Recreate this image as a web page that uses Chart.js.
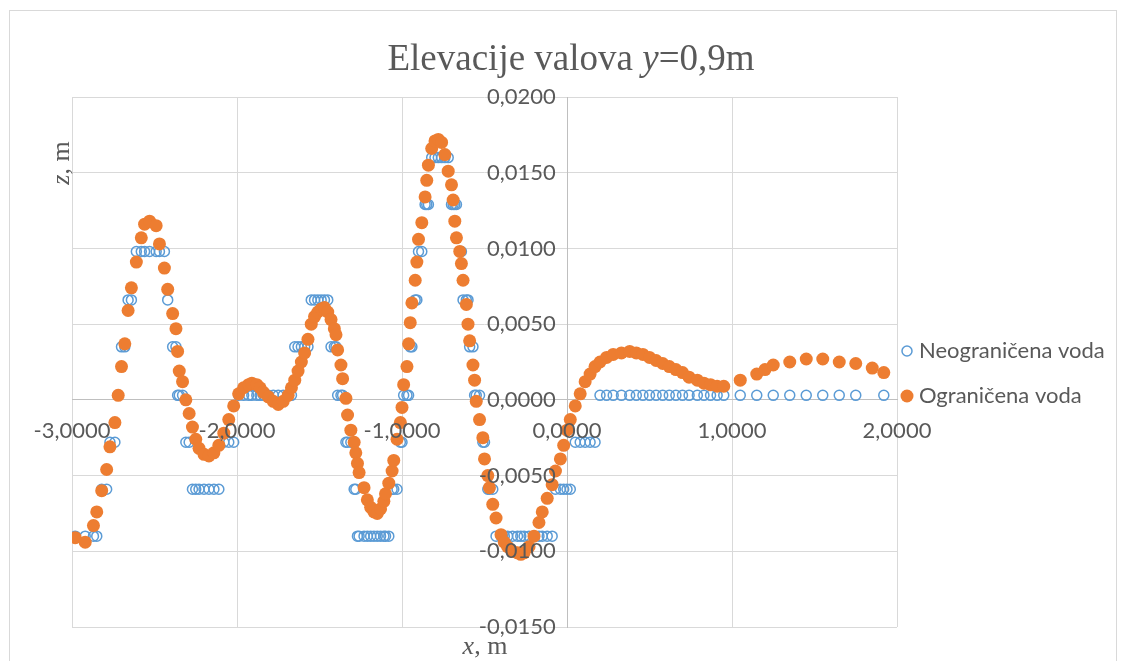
<!DOCTYPE html>
<html>
<head>
<meta charset="utf-8">
<title>Elevacije valova</title>
<script src="https://cdn.jsdelivr.net/npm/chart.js@4.4.1/dist/chart.umd.min.js"></script>
<style>
    html, body { margin: 0; padding: 0; background: #ffffff; }
    #wrap { position: relative; width: 1124px; height: 661px; }
</style>
</head>
<body>
<div id="wrap"><canvas id="waveChart"></canvas></div>
<script>
// x, m (shared by both series)
const xValues = [
    -2.98, -2.92, -2.87, -2.85, -2.82, -2.79, -2.77, -2.74, -2.72, -2.70,
    -2.68, -2.66, -2.64, -2.61, -2.58, -2.56, -2.53, -2.49, -2.47, -2.44,
    -2.42, -2.39, -2.37, -2.36, -2.35, -2.33, -2.31, -2.29, -2.27, -2.25,
    -2.23, -2.20, -2.17, -2.14, -2.11, -2.08, -2.05, -2.02, -1.99, -1.96,
    -1.93, -1.91, -1.88, -1.86, -1.84, -1.81, -1.78, -1.75, -1.72, -1.69,
    -1.67, -1.65, -1.63, -1.61, -1.59, -1.57, -1.55, -1.53, -1.51, -1.49,
    -1.47, -1.45, -1.43, -1.41, -1.40, -1.39, -1.37, -1.36, -1.34, -1.33,
    -1.31, -1.29, -1.28, -1.27, -1.26, -1.23, -1.21, -1.19, -1.17, -1.15,
    -1.13, -1.11, -1.10, -1.08, -1.06, -1.05, -1.03, -1.01, -1.00, -0.99,
    -0.97, -0.96, -0.95, -0.94, -0.92, -0.91, -0.90, -0.88, -0.86, -0.85,
    -0.84, -0.82, -0.80, -0.78, -0.76, -0.74, -0.72, -0.70, -0.69, -0.68,
    -0.67, -0.65, -0.64, -0.63, -0.61, -0.60, -0.59, -0.57, -0.56, -0.55,
    -0.53, -0.51, -0.50, -0.48, -0.47, -0.45, -0.43, -0.40, -0.38, -0.36,
    -0.33, -0.30, -0.28, -0.26, -0.23, -0.20, -0.17, -0.15, -0.12, -0.09,
    -0.07, -0.04, -0.02, 0.00, 0.02, 0.05, 0.08, 0.11, 0.14, 0.17,
    0.20, 0.24, 0.28, 0.33, 0.38, 0.42, 0.46, 0.50, 0.54, 0.58,
    0.62, 0.66, 0.70, 0.74, 0.79, 0.83, 0.87, 0.91, 0.95, 1.05,
    1.15, 1.20, 1.25, 1.35, 1.45, 1.55, 1.65, 1.75, 1.85, 1.92
];

// z, m - Neograničena voda
const neogranicenaValues = [
    -0.0090, -0.0090, -0.0090, -0.0090, -0.0059, -0.0059, -0.0028, -0.0028, 0.0003, 0.0035,
    0.0035, 0.0066, 0.0066, 0.0098, 0.0098, 0.0098, 0.0098, 0.0098, 0.0098, 0.0098,
    0.0066, 0.0035, 0.0035, 0.0003, 0.0003, 0.0003, -0.0028, -0.0028, -0.0059, -0.0059,
    -0.0059, -0.0059, -0.0059, -0.0059, -0.0059, -0.0028, -0.0028, -0.0028, 0.0003, 0.0003,
    0.0003, 0.0003, 0.0003, 0.0003, 0.0003, 0.0003, 0.0003, 0.0003, 0.0003, 0.0003,
    0.0003, 0.0035, 0.0035, 0.0035, 0.0035, 0.0035, 0.0066, 0.0066, 0.0066, 0.0066,
    0.0066, 0.0066, 0.0035, 0.0035, 0.0035, 0.0003, 0.0003, 0.0003, -0.0028, -0.0028,
    -0.0028, -0.0059, -0.0059, -0.0090, -0.0090, -0.0090, -0.0090, -0.0090, -0.0090, -0.0090,
    -0.0090, -0.0090, -0.0090, -0.0090, -0.0059, -0.0059, -0.0059, -0.0028, -0.0028, 0.0003,
    0.0003, 0.0003, 0.0035, 0.0035, 0.0066, 0.0066, 0.0098, 0.0098, 0.0129, 0.0129,
    0.0129, 0.0160, 0.0160, 0.0160, 0.0160, 0.0160, 0.0160, 0.0129, 0.0129, 0.0129,
    0.0129, 0.0098, 0.0098, 0.0066, 0.0066, 0.0066, 0.0035, 0.0035, 0.0003, 0.0003,
    0.0003, -0.0028, -0.0028, -0.0059, -0.0059, -0.0059, -0.0090, -0.0090, -0.0090, -0.0090,
    -0.0090, -0.0090, -0.0090, -0.0090, -0.0090, -0.0090, -0.0090, -0.0090, -0.0090, -0.0090,
    -0.0059, -0.0059, -0.0059, -0.0059, -0.0059, -0.0028, -0.0028, -0.0028, -0.0028, -0.0028,
    0.0003, 0.0003, 0.0003, 0.0003, 0.0003, 0.0003, 0.0003, 0.0003, 0.0003, 0.0003,
    0.0003, 0.0003, 0.0003, 0.0003, 0.0003, 0.0003, 0.0003, 0.0003, 0.0003, 0.0003,
    0.0003, null, 0.0003, 0.0003, 0.0003, 0.0003, 0.0003, 0.0003, null, 0.0003
];

// z, m - Ograničena voda
const ogranicenaValues = [
    -0.0091, -0.0094, -0.0083, -0.0074, -0.0060, -0.0046, -0.0031, -0.0015, 0.0003, 0.0022,
    0.0037, 0.0059, 0.0074, 0.0091, 0.0107, 0.0116, 0.0118, 0.0115, 0.0103, 0.0087,
    0.0073, 0.0057, 0.0047, 0.0032, 0.0019, 0.0012, 0.0000, -0.0009, -0.0018, -0.0026,
    -0.0032, -0.0036, -0.0037, -0.0035, -0.0030, -0.0022, -0.0013, -0.0004, 0.0004, 0.0008,
    0.0010, 0.0011, 0.0010, 0.0008, 0.0005, 0.0002, -0.0001, -0.0003, -0.0001, 0.0003,
    0.0008, 0.0013, 0.0019, 0.0025, 0.0031, 0.0040, 0.0050, 0.0055, 0.0058, 0.0060,
    0.0061, 0.0058, 0.0053, 0.0047, 0.0043, 0.0033, 0.0023, 0.0014, 0.0001, -0.0010,
    -0.0020, -0.0028, -0.0035, -0.0042, -0.0048, -0.0058, -0.0066, -0.0071, -0.0074, -0.0075,
    -0.0072, -0.0067, -0.0062, -0.0055, -0.0047, -0.0040, -0.0026, -0.0015, -0.0005, 0.0010,
    0.0022, 0.0037, 0.0051, 0.0064, 0.0079, 0.0091, 0.0106, 0.0117, 0.0134, 0.0145,
    0.0155, 0.0166, 0.0171, 0.0172, 0.0170, 0.0162, 0.0151, 0.0142, 0.0132, 0.0118,
    0.0107, 0.0098, 0.0090, 0.0079, 0.0063, 0.0050, 0.0039, 0.0023, 0.0013, -0.0001,
    -0.0013, -0.0025, -0.0039, -0.0050, -0.0058, -0.0069, -0.0078, -0.0089, -0.0094, -0.0097,
    -0.0100, -0.0101, -0.0102, -0.0101, -0.0097, -0.0090, -0.0081, -0.0074, -0.0065, -0.0056,
    -0.0047, -0.0039, -0.0030, -0.0020, -0.0013, -0.0004, 0.0004, 0.0012, 0.0017, 0.0022,
    0.0025, 0.0028, 0.0030, 0.0031, 0.0032, 0.0031, 0.0030, 0.0028, 0.0026, 0.0024,
    0.0022, 0.0020, 0.0018, 0.0015, 0.0013, 0.0011, 0.0010, 0.0009, 0.0009, 0.0013,
    0.0017, 0.0020, 0.0023, 0.0025, 0.0027, 0.0027, 0.0025, 0.0024, 0.0021, 0.0018
];

const seriesNames = ["Neograničena voda", "Ograničena voda"];
const xTickValues = [-3, -2, -1, 0, 1, 2];
const yTickValues = [-0.015, -0.01, -0.005, 0, 0.005, 0.01, 0.015, 0.02];

document.addEventListener("DOMContentLoaded", function () {
    const ctx = document.getElementById("waveChart").getContext("2d");
    const blue = "#5B9BD5";
    const orange = "#ED7D31";
    const textColor = "#595959";
    const tickFont = { family: "Lato", size: 22 };

    function toPoints(values) {
        return xValues
            .map((x, i) => ({ x: x, y: values[i] }))
            .filter(p => p.y !== null);
    }

    function fmt(value) {
        const v = Math.abs(value) < 1e-9 ? 0 : value;
        return v.toFixed(4).replace(".", ",");
    }

    // text made of normal and italic pieces
    function drawRuns(c, runs, x, y, size) {
        const fontFor = r => (r.italic ? "italic " : "") + size + "px 'Liberation Serif'";
        let total = 0;
        runs.forEach(r => { c.font = fontFor(r); total += c.measureText(r.text).width; });
        let cx = x - total / 2;
        c.textAlign = "left";
        runs.forEach(r => {
            c.font = fontFor(r);
            c.fillText(r.text, cx, y);
            cx += c.measureText(r.text).width;
        });
    }

    const decor = {
        id: "decor",
        afterDraw(chart) {
            const c = chart.ctx;
            c.save();
            c.strokeStyle = "#D9D9D9";
            c.lineWidth = 1;
            c.strokeRect(9.5, 10.5, 1107, 700);

            c.fillStyle = textColor;
            c.textBaseline = "alphabetic";
            drawRuns(c, [
                { text: "Elevacije valova ", italic: false },
                { text: "y", italic: true },
                { text: "=0,9m", italic: false }
            ], 571, 70, 37);

            drawRuns(c, [
                { text: "x", italic: true },
                { text: ", m", italic: false }
            ], 485, 654, 26);

            c.save();
            c.translate(69, 163);
            c.rotate(-Math.PI / 2);
            drawRuns(c, [
                { text: "z", italic: true },
                { text: ", m", italic: false }
            ], 0, 0, 26);
            c.restore();

            // legend
            c.beginPath();
            c.arc(907, 351, 5, 0, Math.PI * 2);
            c.strokeStyle = blue;
            c.lineWidth = 1.5;
            c.stroke();
            c.beginPath();
            c.arc(907, 396, 6.5, 0, Math.PI * 2);
            c.fillStyle = orange;
            c.fill();
            c.fillStyle = textColor;
            c.font = "22px Lato";
            c.textAlign = "left";
            c.textBaseline = "middle";
            c.fillText(seriesNames[0], 919, 351);
            c.fillText(seriesNames[1], 919, 396);
            c.restore();
        }
    };

    const config = {
        type: "scatter",
        data: {
            datasets: [
                {
                    label: seriesNames[0],
                    data: toPoints(neogranicenaValues),
                    pointRadius: 5,
                    pointBorderWidth: 1.5,
                    pointBackgroundColor: "rgba(0,0,0,0)",
                    pointBorderColor: blue,
                    backgroundColor: "rgba(0,0,0,0)",
                    borderColor: blue,
                    order: 2
                },
                {
                    label: seriesNames[1],
                    data: toPoints(ogranicenaValues),
                    pointRadius: 6.5,
                    pointBorderWidth: 0,
                    pointBackgroundColor: orange,
                    pointBorderColor: orange,
                    backgroundColor: orange,
                    borderColor: orange,
                    order: 1
                }
            ]
        },
        options: {
            responsive: true,
            maintainAspectRatio: false,
            animation: false,
            events: [],
            layout: { padding: { left: 72, top: 97, right: 227, bottom: 34 } },
            plugins: {
                legend: { display: false },
                title: { display: false },
                tooltip: { enabled: false }
            },
            scales: {
                x: {
                    type: "linear",
                    position: { y: 0 },
                    min: -3,
                    max: 2,
                    afterBuildTicks: function (scale) {
                        scale.ticks = xTickValues.map(v => ({ value: v }));
                    },
                    ticks: {
                        callback: fmt,
                        color: textColor,
                        font: tickFont,
                        padding: 18,
                        autoSkip: false,
                        maxRotation: 0,
                        z: 1
                    },
                    grid: { color: "#D9D9D9", drawTicks: false },
                    border: { color: "#BFBFBF" }
                },
                y: {
                    type: "linear",
                    position: { x: 0 },
                    min: -0.015,
                    max: 0.02,
                    afterBuildTicks: function (scale) {
                        scale.ticks = yTickValues.map(v => ({ value: v }));
                    },
                    ticks: {
                        // labels sit left of the zero axis with a small gap
                        callback: value => fmt(value) + "  ",
                        color: textColor,
                        font: tickFont,
                        autoSkip: false,
                        z: 1
                    },
                    grid: { color: "#D9D9D9", drawTicks: false },
                    border: { color: "#BFBFBF" }
                }
            }
        },
        plugins: [decor]
    };

    new Chart(ctx, config);
});
</script>
</body>
</html>
